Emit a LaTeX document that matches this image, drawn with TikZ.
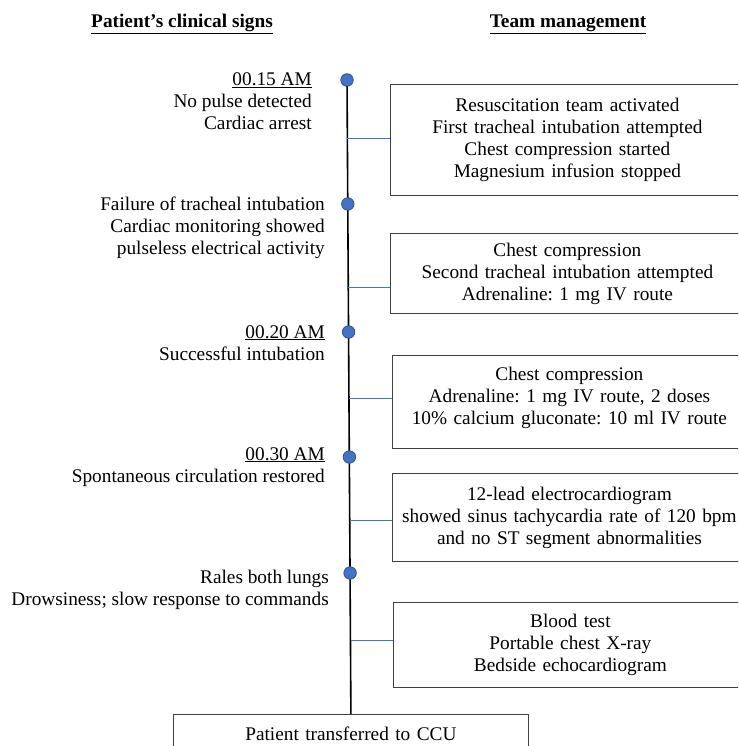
\documentclass[tikz,border=0pt]{standalone}
\usepackage{fontspec}
\setmainfont{Liberation Serif}
\frenchspacing
\definecolor{dotblue}{HTML}{4472C4}
\definecolor{dotedge}{HTML}{2F528F}

\tikzset{
  txt/.style={inner sep=0pt, font=\fontsize{19.3}{22}\selectfont},
  sign/.style={txt, align=right, anchor=base east},
  head/.style={txt, anchor=base, font=\fontsize{19.3}{22}\selectfont\bfseries},
  teambox/.style={txt, rectangle, draw=black!75, line width=0.8pt, anchor=north west,
    text width=340pt, minimum width=354pt, align=center},
  dot/.style={circle, fill=dotblue, draw=dotedge, line width=0.8pt, minimum size=12.5pt, inner sep=0pt},
  tick/.style={draw=dotblue, line width=0.8pt}
}

\begin{document}
\begin{tikzpicture}[x=1pt,y=-1pt]
    \clip (0,0) rectangle (738,746);

    \node(head-1)[head] at (182,28) {\underline{Patient’s clinical signs}};
    \node(head-2)[head] at (568,28) {\underline{Team management}};

    % base anchor sits on the last line
    \node(sign-1)[sign] at (312,130) {\underline{00.15 AM}\\No pulse detected\\Cardiac arrest};
    \node(sign-2)[sign] at (325,254) {Failure of tracheal intubation\\Cardiac monitoring showed\\pulseless electrical activity};
    \node(sign-3)[sign] at (325,360) {\underline{00.20 AM}\\Successful intubation};
    \node(sign-4)[sign] at (325,482) {\underline{00.30 AM}\\Spontaneous circulation restored};
    \node(sign-5)[sign] at (329,605) {Rales both lungs\\Drowsiness; slow response to commands};

    \node(team-1)[teambox, minimum height=111pt] at (390,84) {Resuscitation team activated\\First tracheal intubation attempted\\Chest compression started\\Magnesium infusion stopped};
    \node(team-2)[teambox, minimum height=80pt] at (390,233) {Chest compression\\Second tracheal intubation attempted\\Adrenaline: 1 mg IV route};
    \node(team-3)[teambox, minimum height=93pt] at (392,355) {Chest compression\\Adrenaline: 1 mg IV route, 2 doses\\10\% calcium gluconate: 10 ml IV route\\[-10pt]\mbox{}};
    \node(team-4)[teambox, minimum height=88pt] at (392,473) {12-lead electrocardiogram\\showed sinus tachycardia rate of 120 bpm\\and no ST segment abnormalities};
    \node(team-5)[teambox, minimum height=85pt] at (393,602) {Blood test\\Portable chest X-ray\\Bedside echocardiogram};

    \node(ccu)[teambox, minimum width=355pt, minimum height=38pt] at (173,714) {Patient transferred to CCU};

    % timeline
    \coordinate(top) at (347,80);
    \draw[line width=1.6pt] (top) -- (ccu.north);

    \coordinate(tick-1) at (347.4,138);
    \coordinate(tick-2) at (348.3,287);
    \coordinate(tick-3) at (349.0,398);
    \coordinate(tick-4) at (349.8,520);
    \coordinate(tick-5) at (350.6,640);
    \foreach \i in {1,...,5}
      \draw[tick] (tick-\i) -- (tick-\i -| team-\i.west);

    \node(dot-1)[dot] at (347,80) {};
    \node(dot-2)[dot] at (347.8,204) {};
    \node(dot-3)[dot] at (348.6,332) {};
    \node(dot-4)[dot] at (349.4,457) {};
    \node(dot-5)[dot] at (350.1,573) {};
  \end{tikzpicture}
\end{document}
